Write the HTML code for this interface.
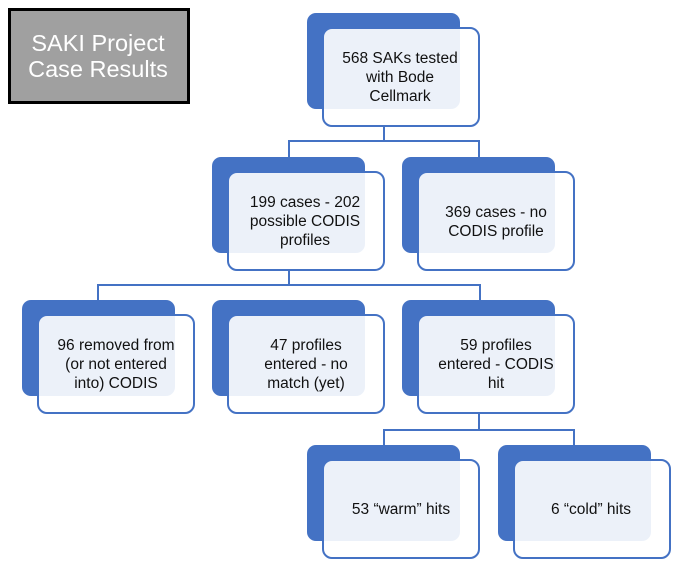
<!DOCTYPE html>
<html><head><meta charset="utf-8"><style>
html,body{margin:0;padding:0;background:#fff;width:686px;height:570px;overflow:hidden}
svg text{font-family:"Liberation Sans",sans-serif;font-size:15.5px;fill:#111}
</style></head><body>
<svg width="686" height="570" viewBox="0 0 686 570" xmlns="http://www.w3.org/2000/svg">
<rect x="9.5" y="9.5" width="179" height="93" fill="#a0a0a0" stroke="#000" stroke-width="3"/>
<text x="98" y="51" text-anchor="middle" style="font-size:23.5px;fill:#fff">SAKI Project</text>
<text x="98" y="77" text-anchor="middle" style="font-size:23.5px;fill:#fff">Case Results</text>
<g stroke="#4472c4" stroke-width="2" fill="none">
<path d="M384 127V141M289 157V141H479V157"/>
<path d="M289 270V285M98 300V285H480V300"/>
<path d="M479 414V430M384 445V430H574V445"/>
</g>
<defs>
<g id="n">
<rect x="0" y="0" width="153" height="96" rx="9" fill="#4472c4"/>
<rect x="16" y="15" width="156" height="98" rx="9" fill="rgba(255,255,255,0.9)" stroke="#4472c4" stroke-width="2"/>
</g>
</defs>
<use href="#n" x="307" y="13"/>
<use href="#n" x="212" y="157"/>
<use href="#n" x="402" y="157"/>
<use href="#n" x="22" y="300"/>
<use href="#n" x="212" y="300"/>
<use href="#n" x="402" y="300"/>
<use href="#n" x="307" y="445"/>
<use href="#n" x="498" y="445"/>
<g text-anchor="middle">
<text x="400" y="63">568 SAKs tested</text><text x="400" y="82">with Bode</text><text x="400" y="101">Cellmark</text>
<text x="305" y="207">199 cases - 202</text><text x="305" y="226">possible CODIS</text><text x="305" y="245">profiles</text>
<text x="496" y="217">369 cases - no</text><text x="496" y="236">CODIS profile</text>
<text x="116" y="350">96 removed from</text><text x="116" y="369">(or not entered</text><text x="116" y="388">into) CODIS</text>
<text x="306" y="350">47 profiles</text><text x="306" y="369">entered - no</text><text x="306" y="388">match (yet)</text>
<text x="496" y="350">59 profiles</text><text x="496" y="369">entered - CODIS</text><text x="496" y="388">hit</text>
<text x="401" y="514">53 “warm” hits</text>
<text x="591" y="514">6 “cold” hits</text>
</g>
</svg>
</body></html>
